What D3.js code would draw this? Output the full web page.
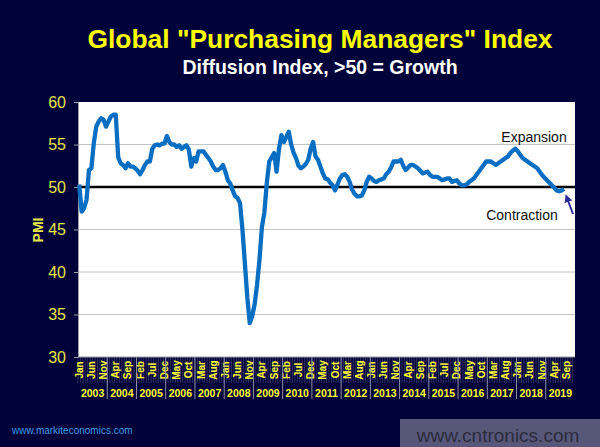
<!DOCTYPE html>
<html>
<head>
<meta charset="utf-8">
<script src="https://cdn.jsdelivr.net/npm/d3@7"></script>
<style>
  html, body { margin: 0; padding: 0; background: #02023a; }
  svg { display: block; }
</style>
</head>
<body>
<svg id="chart" width="600" height="447"></svg>
<script>
// ---- data ----
const years = [2003, 2004, 2005, 2006, 2007, 2008, 2009, 2010, 2011, 2012, 2013, 2014, 2015, 2016, 2017, 2018, 2019];
const monthNames = ["Jan","Feb","Mar","Apr","May","Jun","Jul","Aug","Sep","Oct","Nov","Dec"];
const yTicks = [30, 35, 40, 45, 50, 55, 60];
const gridValues = [35, 40, 45, 55];
// Global PMI, monthly from Jan 2003
const pmi = [
  50.3, 47.1, 47.5, 48.5, 52.0, 52.2, 55.2, 57.1, 57.7, 58.1, 57.9, 57.1,
  57.7, 58.3, 58.5, 58.5, 53.5, 52.8, 52.6, 52.2, 52.8, 52.4, 52.4, 52.2,
  51.9, 51.5, 52.0, 52.6, 53.0, 53.0, 54.5, 54.9, 55.0, 54.9, 55.1, 55.1,
  56.0, 55.3, 55.0, 55.0, 54.7, 54.9, 54.5, 54.7, 54.9, 54.4, 52.4, 53.4,
  53.0, 54.2, 54.2, 54.2, 53.8, 53.4, 53.0, 52.4, 52.0, 52.0, 52.2, 52.6,
  51.8, 50.8, 50.4, 49.6, 48.9, 48.7, 48.1, 45.0, 41.0, 37.0, 34.0, 34.8,
  36.2, 38.5, 41.5, 45.3, 47.0, 50.5, 53.0, 53.5, 54.0, 51.8, 54.5, 56.1,
  55.3, 55.9, 56.5, 55.0, 54.0, 53.4, 52.5, 52.2, 52.4, 52.7, 53.2, 54.5,
  55.3, 53.6, 53.2, 52.4, 51.6, 51.0, 50.9, 50.5, 50.2, 49.6, 50.3, 51.0,
  51.4, 51.5, 51.2, 50.6, 49.7, 49.2, 48.9, 48.9, 49.0, 49.6, 50.6, 51.2,
  51.0, 50.7, 50.6, 50.8, 50.9, 51.0, 51.5, 51.8, 52.3, 53.0, 53.0, 53.0,
  53.2, 52.5, 52.0, 52.3, 52.6, 52.6, 52.4, 52.2, 51.9, 51.6, 51.7, 51.8,
  51.4, 51.2, 51.2, 51.2, 51.0, 50.8, 50.9, 51.0, 51.0, 50.6, 50.7, 50.8,
  50.4, 50.2, 50.2, 50.3, 50.6, 50.8, 51.0, 51.4, 51.8, 52.2, 52.6, 53.0,
  53.0, 53.0, 52.8, 52.6, 52.8, 53.0, 53.2, 53.4, 53.6, 54.0, 54.3, 54.5,
  54.2, 53.8, 53.4, 53.2, 53.0, 52.8, 52.6, 52.4, 52.2, 51.8, 51.4, 51.1,
  50.8, 50.5, 50.2, 49.9, 49.6, 49.5, 49.6, 49.8
];
const threshold = 50;

// ---- layout ----
const W = 600, H = 447;
const plot = { left: 78, right: 575, top: 102, bottom: 357 };

const svg = d3.select("#chart");
svg.append("rect").attr("width", W).attr("height", H).attr("fill", "#02023a");

// months (category axis) built from the year list
const months = [];
years.forEach(yr => monthNames.forEach((m, k) => months.push({ year: yr, name: m, k })));
const x = d3.scaleBand().domain(d3.range(months.length)).range([plot.left, plot.right]);
const y = d3.scaleLinear().domain([30, 60]).range([plot.bottom, plot.top]);
const cx = i => x(i) + x.bandwidth() / 2;

// titles
svg.append("text").attr("x", 320).attr("y", 48).attr("text-anchor", "middle")
  .attr("font-family", "Liberation Sans, Arial, sans-serif").attr("font-weight", "bold")
  .attr("font-size", 26.4).attr("fill", "#ffff00")
  .text('Global "Purchasing Managers" Index');
svg.append("text").attr("x", 320).attr("y", 73.5).attr("text-anchor", "middle")
  .attr("font-family", "Liberation Sans, Arial, sans-serif").attr("font-weight", "bold")
  .attr("font-size", 19.5).attr("fill", "#ffffff")
  .text("Diffusion Index, >50 = Growth");

// plot background
svg.append("rect").attr("x", plot.left).attr("y", plot.top)
  .attr("width", plot.right - plot.left).attr("height", plot.bottom - plot.top)
  .attr("fill", "#ffffff");

// gridlines
svg.append("g").selectAll("line").data(gridValues).join("line")
  .attr("x1", plot.left).attr("x2", plot.right)
  .attr("y1", d => y(d)).attr("y2", d => y(d))
  .attr("stroke", "#c4c4c4").attr("stroke-width", 1);

// y axis
const yAxis = d3.axisLeft(y).tickValues(yTicks).tickSize(4).tickPadding(8);
const gy = svg.append("g").attr("transform", `translate(${plot.left},0)`).call(yAxis);
gy.select(".domain").attr("stroke", "#9a9aa8");
gy.selectAll(".tick line").attr("stroke", "#9a9aa8");
gy.selectAll(".tick text").attr("fill", "#e6e64a")
  .attr("font-family", "Liberation Sans, Arial, sans-serif").attr("font-size", 16);

svg.append("text").attr("transform", "translate(43,230) rotate(-90)")
  .attr("text-anchor", "middle")
  .attr("font-family", "Liberation Sans, Arial, sans-serif").attr("font-weight", "bold")
  .attr("font-size", 14).attr("fill", "#e6e64a").text("PMI");

// threshold line
svg.append("line").attr("x1", plot.left).attr("x2", plot.right)
  .attr("y1", y(threshold)).attr("y2", y(threshold))
  .attr("stroke", "#000000").attr("stroke-width", 2.5);

// data line
const line = d3.line().x((d, i) => cx(i)).y(d => y(d)).curve(d3.curveLinear);
svg.append("path").datum(pmi).attr("d", line)
  .attr("fill", "none").attr("stroke", "#0a6fc2").attr("stroke-width", 4.3)
  .attr("stroke-linejoin", "round");

// x axis: month ticks
const gx = svg.append("g");
gx.selectAll("line.mt").data(months).join("line").attr("class", "mt")
  .attr("x1", (d, i) => x(i)).attr("x2", (d, i) => x(i))
  .attr("y1", plot.bottom).attr("y2", plot.bottom + 26)
  .attr("stroke", "#6a6a90").attr("stroke-width", 0.8).attr("opacity", 0.55);
gx.append("line").attr("x1", plot.left).attr("x2", plot.right)
  .attr("y1", plot.bottom).attr("y2", plot.bottom).attr("stroke", "#9a9aa8");

// month labels every 5 months
gx.selectAll("text.ml").data(months.filter((d, i) => i % 5 === 0 && i < pmi.length + 2))
  .join("text").attr("class", "ml")
  .attr("transform", d => {
    const i = months.indexOf(d);
    return `translate(${cx(i) + 3.5},370) rotate(-90)`;
  })
  .attr("text-anchor", "middle")
  .attr("font-family", "Liberation Sans, Arial, sans-serif").attr("font-weight", "bold")
  .attr("font-size", 10).attr("fill", "#ffff33")
  .text(d => d.name);

// year separators and labels
gx.selectAll("line.ys").data(years.slice(1)).join("line").attr("class", "ys")
  .attr("x1", (d, k) => x((k + 1) * 12)).attr("x2", (d, k) => x((k + 1) * 12))
  .attr("y1", plot.bottom).attr("y2", plot.bottom + 42)
  .attr("stroke", "#9090a8").attr("stroke-width", 1);
gx.selectAll("text.yl").data(years).join("text").attr("class", "yl")
  .attr("x", (d, k) => (x(k * 12) + x(k * 12 + 11) + x.bandwidth()) / 2)
  .attr("y", 397).attr("text-anchor", "middle")
  .attr("font-family", "Liberation Sans, Arial, sans-serif").attr("font-weight", "bold")
  .attr("font-size", 10.5).attr("fill", "#ffff33")
  .text(d => d);

// annotations
svg.append("text").attr("x", 534).attr("y", 142).attr("text-anchor", "middle")
  .attr("font-family", "Liberation Sans, Arial, sans-serif")
  .attr("font-size", 14).attr("fill", "#111111").text("Expansion");
svg.append("text").attr("x", 522).attr("y", 220).attr("text-anchor", "middle")
  .attr("font-family", "Liberation Sans, Arial, sans-serif")
  .attr("font-size", 14).attr("fill", "#111111").text("Contraction");

// arrow
const defs = svg.append("defs");
defs.append("marker").attr("id", "ah").attr("viewBox", "0 0 10 10")
  .attr("refX", 5).attr("refY", 5).attr("markerWidth", 4).attr("markerHeight", 4)
  .attr("orient", "auto")
  .append("path").attr("d", "M0,0 L10,5 L0,10 z").attr("fill", "#2a2a9a");
svg.append("line").attr("x1", 573).attr("y1", 214).attr("x2", 567).attr("y2", 198)
  .attr("stroke", "#2a2a9a").attr("stroke-width", 2).attr("marker-end", "url(#ah)");

// footer
svg.append("text").attr("x", 12).attr("y", 434)
  .attr("font-family", "Liberation Sans, Arial, sans-serif")
  .attr("font-size", 10).attr("fill", "#3d9be0").text("www.markiteconomics.com");
svg.append("rect").attr("x", 400).attr("y", 419).attr("width", 200).attr("height", 28)
  .attr("fill", "#57577a");
svg.append("text").attr("x", 498).attr("y", 442).attr("text-anchor", "middle")
  .attr("font-family", "Liberation Sans, Arial, sans-serif")
  .attr("font-size", 19).attr("fill", "#2c2c3c").text("www.cntronics.com");
</script>
</body>
</html>
